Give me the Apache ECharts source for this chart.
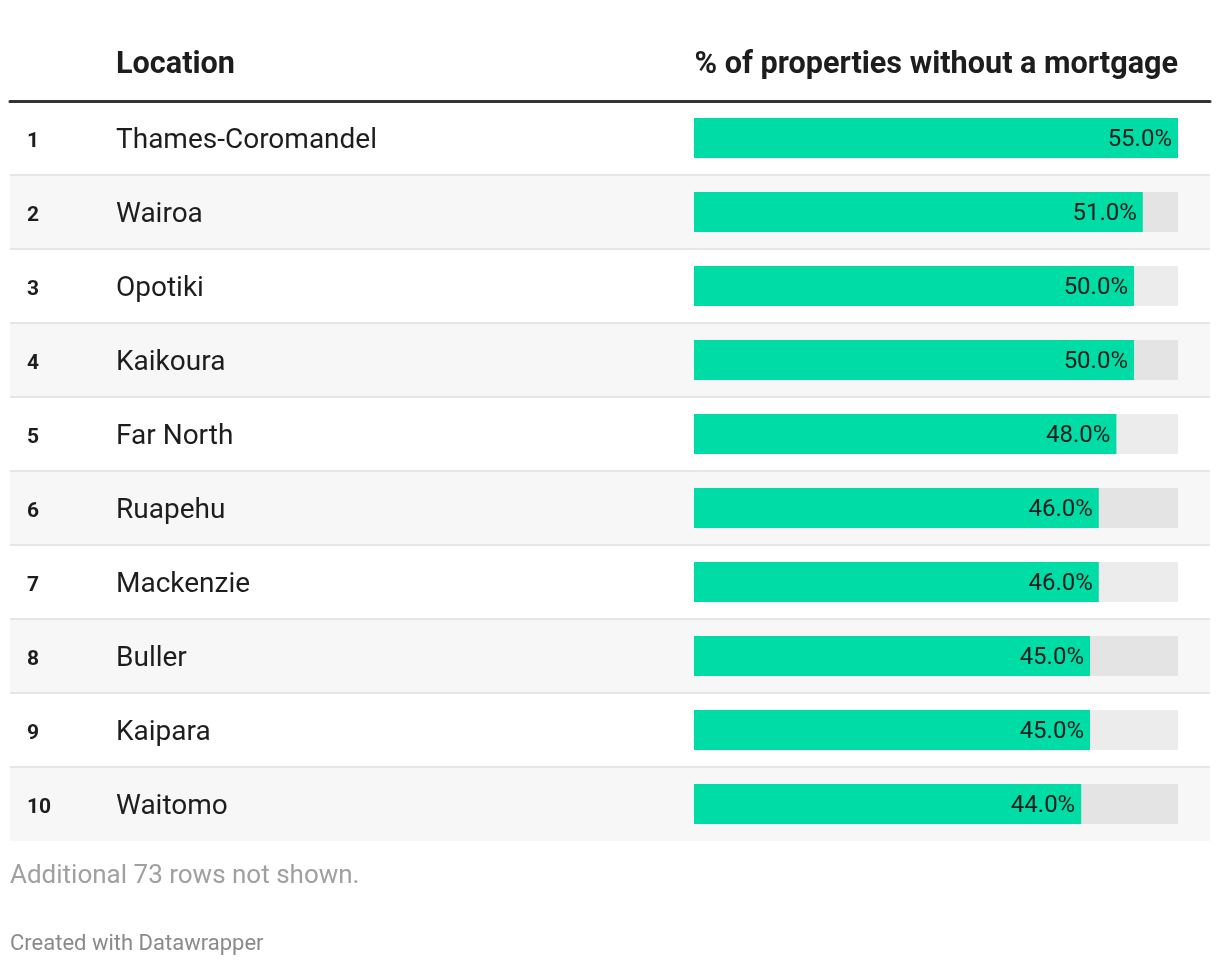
<!DOCTYPE html>
<html><head><meta charset="utf-8">
<script src="https://cdn.jsdelivr.net/npm/echarts@6/dist/echarts.min.js"></script>
<style>html,body{margin:0;padding:0;background:#fff}#c{width:1220px;height:966px}</style>
</head><body><div id="c"></div>
<script>
const ranks = ['1','2','3','4','5','6','7','8','9','10'];
const locations = ['Thames-Coromandel','Wairoa','Opotiki','Kaikoura','Far North','Ruapehu','Mackenzie','Buller','Kaipara','Waitomo'];
const values = [55.0, 51.0, 50.0, 50.0, 48.0, 46.0, 46.0, 45.0, 45.0, 44.0];
const headerLocation = 'Location';
const headerValue = '% of properties without a mortgage';
const noteText = 'Additional 73 rows not shown.';
const creditText = 'Created with Datawrapper';

const FONT = 'Roboto, "Noto Sans", sans-serif';
const chart = echarts.init(document.getElementById('c'), null, {renderer: 'canvas'});
const rowKeys = ranks.map((r, i) => r + '|' + locations[i]);

chart.setOption({
  animation: false,
  backgroundColor: '#ffffff',
  textStyle: {fontFamily: FONT},
  grid: [
    {left: 10, width: 1200, top: 101, height: 740},
    {left: 694, width: 484, top: 101, height: 740}
  ],
  xAxis: [
    {gridIndex: 0, type: 'value', min: 0, max: 1, position: 'top',
     axisLine: {show: true, onZero: false, lineStyle: {color: '#333333', width: 3}},
     axisTick: {show: false}, axisLabel: {show: false}, splitLine: {show: false}},
    {gridIndex: 1, type: 'value', min: 0, max: 55, show: false}
  ],
  yAxis: [
    {gridIndex: 0, type: 'category', data: rowKeys, inverse: true,
     axisLine: {show: false}, axisTick: {show: false},
     splitArea: {show: true, areaStyle: {color: ['#ffffff', '#f7f7f7']}},
     splitLine: {show: true, showMinLine: false, showMaxLine: false, lineStyle: {color: '#e6e6e6', width: 2}},
     axisLabel: {
       inside: true, margin: 17, align: 'left',
       formatter: v => { const p = v.split('|'); return '{r|' + p[0] + '}{n|' + p[1] + '}'; },
       rich: {
         r: {width: 89, fontFamily: FONT, fontWeight: 'bold', fontSize: 21, color: '#1d1d1d', padding: [7, 0, 0, 0]},
         n: {fontFamily: FONT, fontSize: 28, color: '#1d1d1d', padding: [5, 0, 0, 0]}
       }
     }},
    {gridIndex: 0, type: 'category', data: rowKeys, inverse: true, position: 'right', offset: 549,
     axisLine: {show: true, lineStyle: {color: '#333333', width: 1.5}},
     axisTick: {show: false}, axisLabel: {show: false}, splitLine: {show: false}},
    {gridIndex: 1, type: 'category', data: rowKeys, inverse: true, show: false}
  ],
  series: [{
    type: 'bar', xAxisIndex: 1, yAxisIndex: 2,
    data: values, barWidth: 40,
    itemStyle: {color: '#00dca6'},
    showBackground: true,
    backgroundStyle: {color: 'rgba(0,0,0,0.075)'},
    label: {
      show: true, position: 'insideRight', distance: 6, offset: [0, 2],
      formatter: p => p.value.toFixed(1) + '%',
      fontFamily: FONT, fontSize: 24, color: '#1d1d1d'
    }
  }],
  graphic: [
    {type: 'text', left: 116, top: 50, style: {text: headerLocation, font: 'bold 30.6px ' + FONT, fill: '#1d1d1d'}},
    {type: 'text', right: 42, top: 50, style: {text: headerValue, font: 'bold 30.6px ' + FONT, fill: '#1d1d1d'}},
    {type: 'text', left: 10, top: 863, style: {text: noteText, font: '26px ' + FONT, fill: '#a0a0a0'}},
    {type: 'text', left: 10, top: 933, style: {text: creditText, font: '22px ' + FONT, fill: '#8a8a8a'}}
  ]
});
</script></body></html>
